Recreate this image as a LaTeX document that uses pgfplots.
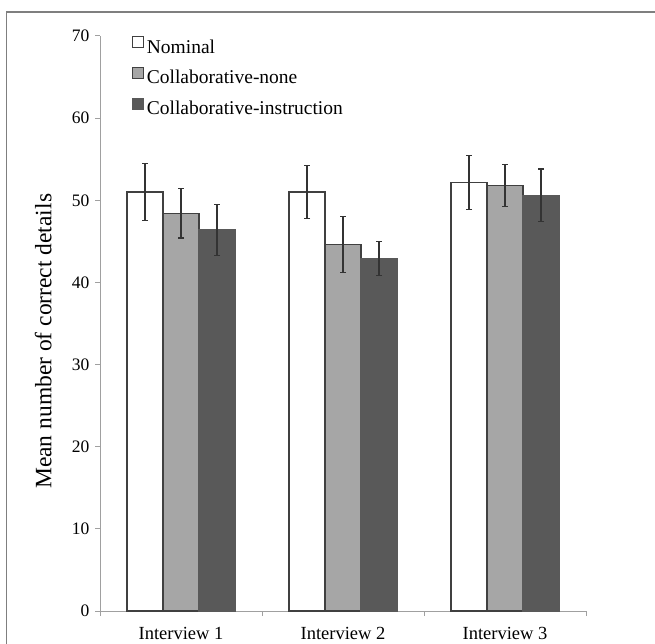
\documentclass[border=0pt]{standalone}
\usepackage{pgfplots}
\pgfplotsset{compat=1.18}
\usepackage{pgfplotstable}
\usepackage{fontspec}
\setmainfont{Liberation Serif}
\definecolor{cgray}{HTML}{A6A6A6}
\definecolor{cdark}{HTML}{595959}
\definecolor{axgray}{HTML}{A0A0A0}
\definecolor{edge}{HTML}{404040}
\definecolor{framec}{HTML}{7F7F7F}

\pgfplotstableread{
x y e
0 51.0 3.5
1 51.0 3.2
2 52.2 3.3
}\nominal
\pgfplotstableread{
x y e
0 48.4 3.0
1 44.6 3.4
2 51.8 2.6
}\collnone
\pgfplotstableread{
x y e
0 46.4 3.1
1 42.9 2.1
2 50.6 3.2
}\collinstr

\begin{document}
\begin{tikzpicture}
\useasboundingbox (0pt,0pt) rectangle (655pt,643pt);
\draw[framec, line width=1.3pt] (6.5pt,-20pt) -- (6.5pt,631pt) -- (700pt,631pt);
\begin{axis}[
  at={(100pt,32pt)}, anchor=south west,
  scale only axis, width=486pt, height=575pt,
  ymin=0, ymax=70, ytick={0,10,...,70},
  xmin=-0.5, xmax=2.5,
  xtick={-0.5,0.5,1.5,2.5}, xticklabels={},
  extra x ticks={0,1,2},
  extra x tick labels={Interview 1,Interview 2,Interview 3},
  extra x tick style={major tick length=0pt,
     tick label style={anchor=base, yshift=-28pt, font=\fontsize{18.5}{18.5}\selectfont, text=black}},
  axis x line*=bottom, axis y line*=left,
  axis line style={draw=axgray, line width=1pt},
  tick align=outside, major tick length=5pt,
  tick style={draw=axgray, line width=1pt},
  /pgf/number format/assume math mode=true,
  yticklabel style={font=\fontsize{17.5}{17.5}\selectfont, text=black, xshift=-2pt},
  ylabel={Mean number of correct details},
  ylabel style={font=\fontsize{23.5}{23.5}\selectfont, at={(axis description cs:-0.117,0.469)}, anchor=center},
  ybar=0pt, bar width=36pt,
  error bars/y dir=both, error bars/y explicit,
  error bars/error bar style={draw=black!80, line width=1.2pt},
  error bars/error mark options={rotate=90, mark size=3pt, line width=1.2pt, draw=black!80},
  legend style={at={(0.065,1.0)}, anchor=north west, draw=none, fill=none,
     inner sep=0pt, font=\fontsize{19.5}{19.5}\selectfont, row sep=10pt,
     nodes={inner sep=0pt, text height=14pt, text depth=4pt}},
  legend cell align=left,
  legend image code/.code={\draw[#1, line width=0.8pt] (0pt,0.5pt) rectangle (11pt,11.5pt);},
  clip=false,
]
\addplot[fill=white, draw=edge, line width=1.2pt] table[x=x, y=y, y error=e] {\nominal};
\addlegendentry{\,Nominal}
\addplot[fill=cgray, draw=edge, line width=1.2pt] table[x=x, y=y, y error=e] {\collnone};
\addlegendentry{\,Collaborative-none}
\addplot[fill=cdark, draw=cdark, line width=1.2pt] table[x=x, y=y, y error=e] {\collinstr};
\addlegendentry{\,Collaborative-instruction}
\end{axis}
\end{tikzpicture}
\end{document}
